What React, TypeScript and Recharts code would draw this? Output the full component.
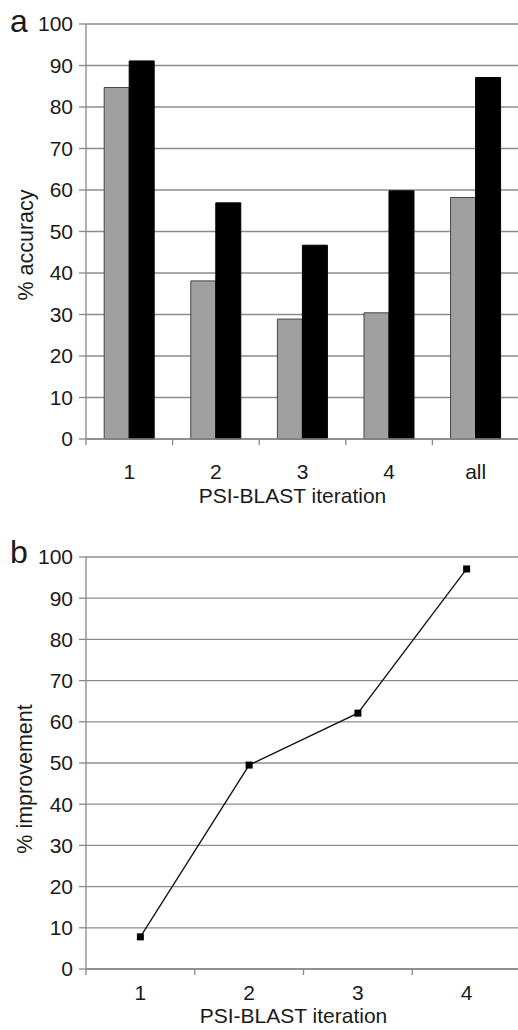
import React from "react";
import {
  BarChart,
  Bar,
  LineChart,
  Line,
  XAxis,
  YAxis,
  CartesianGrid,
} from "recharts";

// panel a: accuracy per PSI-BLAST iteration
const iterationsA = ["1", "2", "3", "4", "all"];
const grayAccuracy = [84.7, 38.1, 28.9, 30.4, 58.2];
const blackAccuracy = [91.1, 56.9, 46.7, 59.8, 87.1];

// panel b: improvement per iteration
const iterationsB = ["1", "2", "3", "4"];
const improvement = [7.8, 49.5, 62.1, 97.1];

const yTicks = [0, 10, 20, 30, 40, 50, 60, 70, 80, 90, 100];

const FONT = "'Liberation Sans', Arial, Helvetica, sans-serif";
const GRID = "#8c8c8c";
const AXIS = "#888";
const TEXT = "#1a1a1a";

const dataA = iterationsA.map((name, i) => ({
  name,
  gray: grayAccuracy[i],
  black: blackAccuracy[i],
}));

const dataB = iterationsB.map((name, i) => ({ name, value: improvement[i] }));

const Y_AXIS_W = 86;

function makeTick(band: number, labelOffset: number) {
  return (props: any) => {
    const { x, y, payload } = props;
    const edge = x - band / 2;
    return (
      <g>
        <line x1={edge} x2={edge} y1={y} y2={y + 6} stroke={AXIS} strokeWidth={1.3} />
        <text
          x={x}
          y={y + labelOffset}
          textAnchor="middle"
          fill={TEXT}
          fontSize={21}
          fontFamily={FONT}
        >
          {payload.value}
        </text>
      </g>
    );
  };
}

function xLabel(offset: number) {
  return (props: any) => {
    const vb = props.viewBox;
    return (
      <text
        x={vb.x + vb.width / 2 - 10}
        y={vb.y + offset}
        textAnchor="middle"
        fill={TEXT}
        fontSize={21}
        fontFamily={FONT}
      >
        PSI-BLAST iteration
      </text>
    );
  };
}

function yLabel(text: string, cx: number, cy: number) {
  return () => (
    <text
      transform={`translate(${cx}, ${cy}) rotate(-90)`}
      textAnchor="middle"
      fill={TEXT}
      fontSize={21.5}
      fontFamily={FONT}
    >
      {text}
    </text>
  );
}

const SquareDot = (props: any) => {
  const { cx, cy, index } = props;
  return <rect key={index} x={cx - 3.5} y={cy - 3.5} width={7} height={7} fill="#000" />;
};

const yTick = { fill: TEXT, fontSize: 21, fontFamily: FONT };

export default function App() {
  const widthA = 519;
  const widthB = 521;
  const bandA = (widthA - Y_AXIS_W) / iterationsA.length;
  const bandB = (widthB - Y_AXIS_W) / iterationsB.length;

  return (
    <div
      style={{
        position: "absolute",
        left: 0,
        top: 0,
        width: 518,
        height: 1030,
        background: "#fff",
        overflow: "hidden",
      }}
    >
      <BarChart
        width={widthA}
        height={510}
        data={dataA}
        margin={{ top: 24, right: 0, bottom: 0, left: 0 }}
        barCategoryGap="21%"
        barGap={0}
      >
        <CartesianGrid vertical={false} stroke={GRID} strokeWidth={1.3} />
        <XAxis
          dataKey="name"
          height={71}
          interval={0}
          tickLine={false}
          tickSize={0}
          tickMargin={0}
          axisLine={{ stroke: AXIS, strokeWidth: 1.3 }}
          tick={makeTick(bandA, 40)}
          label={{ content: xLabel(63.5) }}
        />
        <YAxis
          width={Y_AXIS_W}
          domain={[0, 100]}
          ticks={yTicks}
          interval={0}
          tickSize={7}
          tickMargin={6}
          tick={yTick}
          tickLine={{ stroke: AXIS, strokeWidth: 1.3 }}
          axisLine={{ stroke: AXIS, strokeWidth: 1.3 }}
          label={{ content: yLabel("% accuracy", 33, 245) }}
        />
        <Bar dataKey="gray" fill="#a0a0a0" stroke="#444" strokeWidth={1} isAnimationActive={false} />
        <Bar dataKey="black" fill="#000" stroke="#000" strokeWidth={1} isAnimationActive={false} />
      </BarChart>

      <LineChart
        width={widthB}
        height={520}
        data={dataB}
        margin={{ top: 47, right: 0, bottom: 0, left: 0 }}
      >
        <CartesianGrid vertical={false} stroke={GRID} strokeWidth={1.3} />
        <XAxis
          dataKey="name"
          scale="band"
          height={61}
          interval={0}
          tickLine={false}
          tickSize={0}
          tickMargin={0}
          axisLine={{ stroke: AXIS, strokeWidth: 1.3 }}
          tick={makeTick(bandB, 31)}
          label={{ content: xLabel(53.5) }}
        />
        <YAxis
          width={Y_AXIS_W}
          domain={[0, 100]}
          ticks={yTicks}
          interval={0}
          tickSize={7}
          tickMargin={6}
          tick={yTick}
          tickLine={{ stroke: AXIS, strokeWidth: 1.3 }}
          axisLine={{ stroke: AXIS, strokeWidth: 1.3 }}
          label={{ content: yLabel("% improvement", 32, 269) }}
        />
        <Line
          dataKey="value"
          stroke="#111"
          strokeWidth={1.3}
          dot={SquareDot}
          activeDot={false}
          isAnimationActive={false}
        />
      </LineChart>

      <svg
        width={518}
        height={1030}
        style={{ position: "absolute", left: 0, top: 0, pointerEvents: "none" }}
      >
        <text x={10} y={32} fontSize={32} fontFamily={FONT} fill={TEXT}>
          a
        </text>
        <text x={10} y={563} fontSize={32} fontFamily={FONT} fill={TEXT}>
          b
        </text>
      </svg>
    </div>
  );
}
